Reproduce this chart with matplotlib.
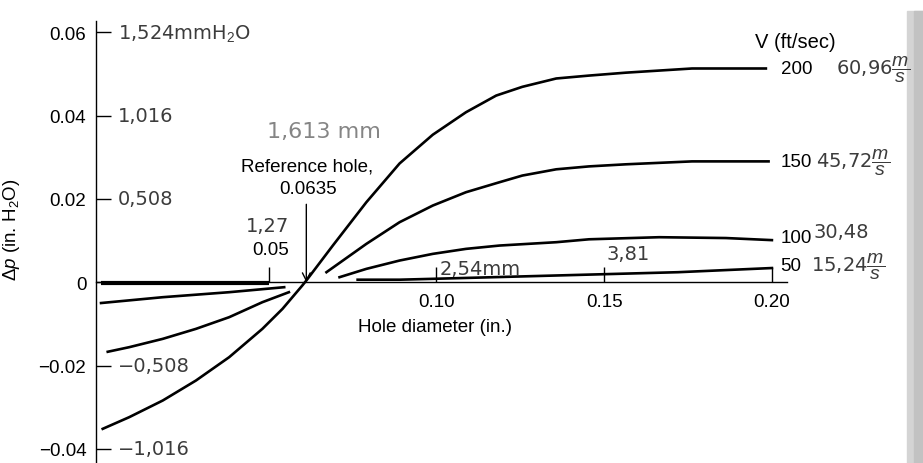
import matplotlib
matplotlib.use("Agg")
import matplotlib.pyplot as plt
from matplotlib.patches import Rectangle

plt.rcParams["font.family"] = ["Liberation Sans", "DejaVu Sans"]
plt.rcParams["mathtext.fontset"] = "custom"
plt.rcParams["mathtext.rm"] = "Liberation Sans"
plt.rcParams["mathtext.it"] = "Liberation Sans:italic"

# hole diameter (in.) vs pressure error (in. H2O)
d200 = [0.0005, 0.0084, 0.0184, 0.0283, 0.0382, 0.0481, 0.0541, 0.0600, 0.0612,
        0.0691, 0.0791, 0.0890, 0.0989, 0.1088, 0.1178, 0.1256, 0.1357, 0.1455,
        0.1565, 0.1762, 0.1982]
p200 = [-0.0352, -0.0324, -0.0284, -0.0236, -0.0180, -0.0112, -0.0064, -0.0008, 0.0004,
        0.0088, 0.0192, 0.0285, 0.0354, 0.0408, 0.0448, 0.0469, 0.0489, 0.0496,
        0.0503, 0.0513, 0.0513]

d150_left = [0.0020, 0.0084, 0.0184, 0.0283, 0.0382, 0.0481, 0.0560]
p150_left = [-0.0167, -0.0156, -0.0136, -0.0112, -0.0084, -0.0048, -0.0024]
d150_right = [0.0672, 0.0791, 0.0890, 0.0989, 0.1088, 0.1188, 0.1256, 0.1357,
              0.1455, 0.1565, 0.1762, 0.1990]
p150_right = [0.0024, 0.0092, 0.0144, 0.0184, 0.0216, 0.0240, 0.0256, 0.0271,
              0.0278, 0.0283, 0.0290, 0.0290]

d100_left = [0.0000, 0.0184, 0.0382, 0.0546]
p100_left = [-0.0050, -0.0036, -0.0024, -0.0012]
d100_right = [0.0711, 0.0791, 0.0890, 0.0989, 0.1088, 0.1188, 0.1357, 0.1455,
              0.1664, 0.1863, 0.2000]
p100_right = [0.0012, 0.0032, 0.0052, 0.0068, 0.0080, 0.0088, 0.0096, 0.0103,
              0.0108, 0.0106, 0.0101]

d50_left = [0.0, 0.0502]
p50_left = [-0.0003, -0.0003]
d50_right = [0.0765, 0.0890, 0.0985, 0.1490, 0.1720, 0.2000]
p50_right = [0.0006, 0.0006, 0.0008, 0.0019, 0.0024, 0.0034]

v_labels = ["200", "150", "100", "50"]
v_label_y = [0.0512, 0.0289, 0.0108, 0.0039]
ms_labels = [r"60,96$\dfrac{m}{s}$", r"45,72$\dfrac{m}{s}$", "30,48", r"15,24$\dfrac{m}{s}$"]
ms_label_x = [0.2190, 0.2130, 0.2124, 0.2116]
ms_label_y = [0.0512, 0.0289, 0.0122, 0.0039]

y_ticks = [-0.04, -0.02, 0.0, 0.02, 0.04, 0.06]
y_tick_labels = ["\u22120.04", "\u22120.02", "0", "0.02", "0.04", "0.06"]
y_mm_labels = ["\u22121,016", "\u22120,508", "", "0,508", "1,016", "1,524mmH$_2$O"]
x_ticks = [0.05, 0.10, 0.15, 0.20]
x_tick_labels = ["", "0.10", "0.15", "0.20"]

INK = "black"
PEN = "#3c3c3c"
FS = 13.5
HAND = dict(family="DejaVu Sans", color=PEN, fontsize=14)

fig = plt.figure(figsize=(9.23, 4.64), dpi=100)
ax = fig.add_axes([96 / 923, 0.0, (787 - 96) / 923, 1 - 22 / 464])
ax.set_xlim(-0.0015, 0.2045)
ax.set_ylim(-0.0434, 0.0627)

lw = 1.9
ax.plot(d200, p200, color=INK, lw=lw)
ax.plot(d150_left, p150_left, color=INK, lw=lw)
ax.plot(d150_right, p150_right, color=INK, lw=lw)
ax.plot(d100_left, p100_left, color=INK, lw=lw)
ax.plot(d100_right, p100_right, color=INK, lw=lw)
ax.plot(d50_left, p50_left, color=INK, lw=3.0, solid_capstyle="butt")
ax.plot(d50_right, p50_right, color=INK, lw=lw)

for side in ("top", "right"):
    ax.spines[side].set_visible(False)
ax.spines["bottom"].set_position(("data", 0))
ax.spines["left"].set_linewidth(1.0)
ax.spines["bottom"].set_linewidth(1.0)

ax.set_yticks(y_ticks)
ax.set_yticklabels(y_tick_labels)
ax.set_xticks(x_ticks)
ax.set_xticklabels(x_tick_labels)
ax.tick_params(axis="y", direction="in", length=11, width=1.0, labelsize=FS, pad=7)
ax.tick_params(axis="x", direction="in", length=11, width=1.0, labelsize=FS, pad=8)

ax.set_ylabel(r"$\Delta p$ (in. H$_2$O)", fontsize=FS)
ax.yaxis.set_label_coords(-0.107, 0.53)
ax.text(0.0997, -0.0107, "Hole diameter (in.)", ha="center", va="center", fontsize=FS)

# reference hole marker
ax.text(0.0614, 0.0280, "Reference hole,", ha="center", va="center", fontsize=FS)
ax.text(0.0616, 0.0224, "0.0635", ha="center", va="center", fontsize=FS)
ax.annotate("", xy=(0.0612, 0.0), xytext=(0.0612, 0.0187),
            arrowprops=dict(arrowstyle="->", color=INK, lw=1.0,
                            mutation_scale=14, shrinkA=0, shrinkB=0))
ax.text(0.0506, 0.0078, "0.05", ha="center", va="center", fontsize=FS)

# velocity labels on the right
ax.text(0.2071, 0.0577, "V (ft/sec)", ha="center", va="center", fontsize=14.5)
for label, y in zip(v_labels, v_label_y):
    ax.text(0.2026, y, label, ha="left", va="center", fontsize=FS)

# handwritten metric conversions
for label, x, y in zip(ms_labels, ms_label_x, ms_label_y):
    ax.text(x, y, label, ha="left", va="center", **HAND)

for label, y in zip(y_mm_labels, y_ticks):
    if label:
        ax.text(0.0050, y, label, ha="left", va="center", **HAND)
ax.text(0.0497, 0.0135, "1,27", ha="center", va="center", **HAND)
ax.text(0.1008, 0.0034, "2,54mm", ha="left", va="center", **HAND)
ax.text(0.1508, 0.0068, "3,81", ha="left", va="center", **HAND)
ax.text(0.0664, 0.0362, "1,613 mm", ha="center", va="center",
        family="DejaVu Sans", color="#858585", fontsize=16)

# greyish edge of the scanned page
fig.patches.append(Rectangle((907 / 923, 0), 16 / 923, 1 - 12 / 464,
                             transform=fig.transFigure, color="#d4d4d4", zorder=-1))
fig.patches.append(Rectangle((914 / 923, 0), 9 / 923, 1 - 12 / 464,
                             transform=fig.transFigure, color="#c2c2c2", zorder=-1))

fig.savefig("out.png", dpi=100)
